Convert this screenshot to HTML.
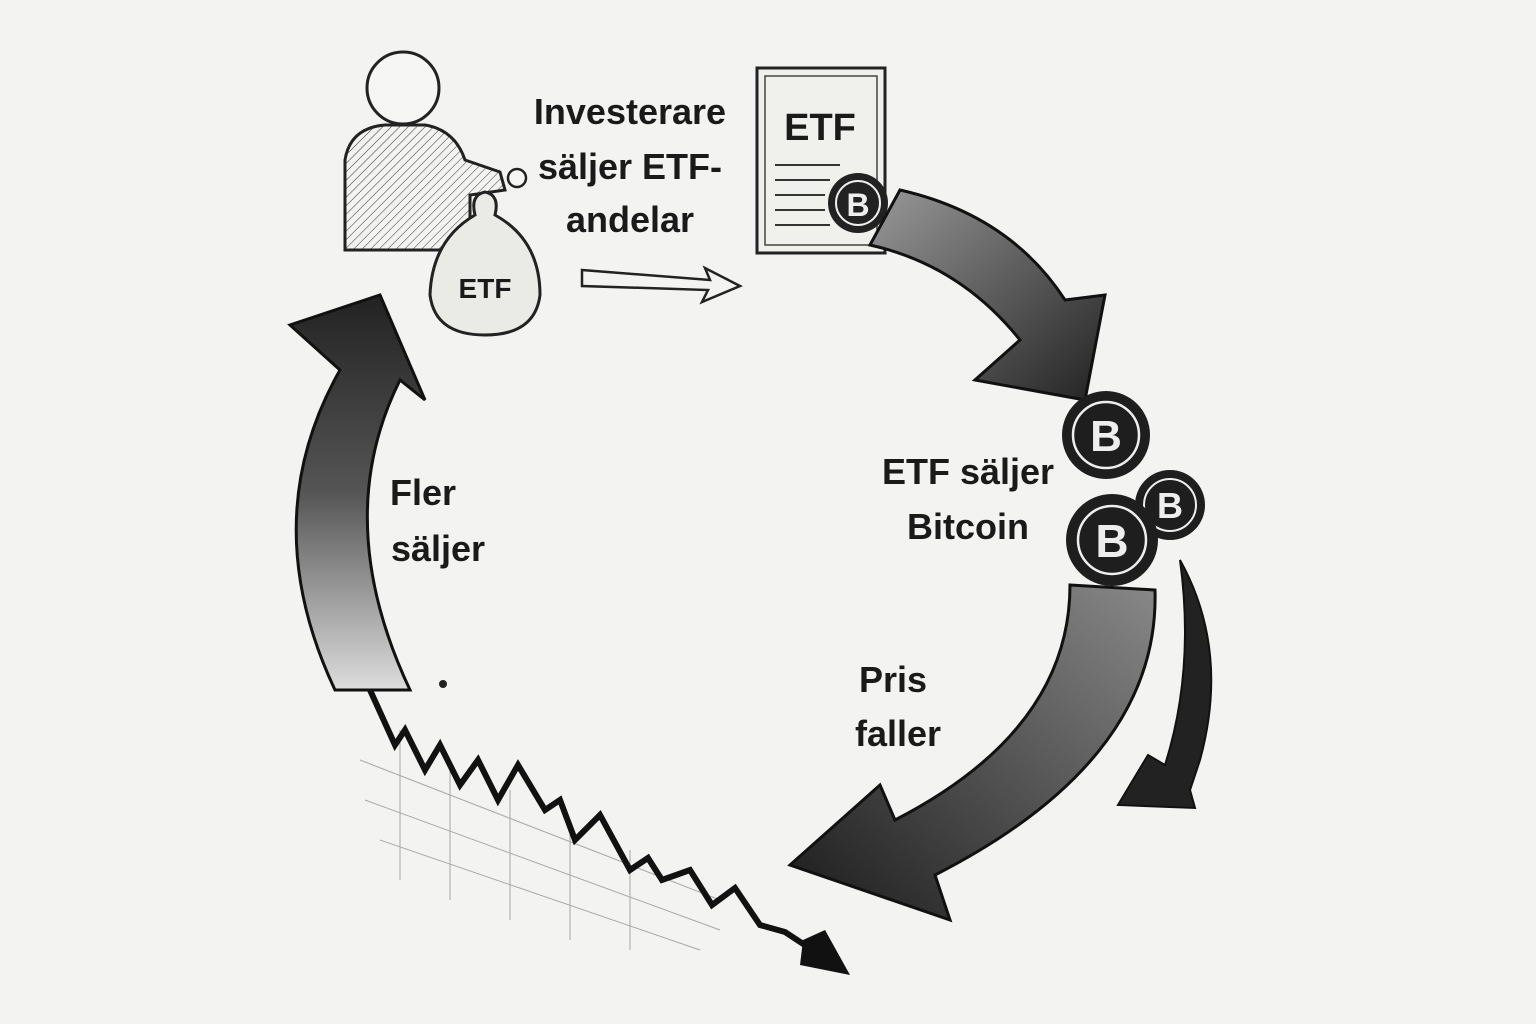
<!DOCTYPE html>
<html><head><meta charset="utf-8"><style>
html,body{margin:0;padding:0;background:#f3f3f1;}
svg{display:block}
text{font-family:"Liberation Sans",sans-serif;font-weight:bold;fill:#1a1a1a}
</style></head><body>
<svg width="1536" height="1024" viewBox="0 0 1536 1024" xmlns="http://www.w3.org/2000/svg">
<defs>
<linearGradient id="g1" x1="0" y1="0" x2="1" y2="1"><stop offset="0" stop-color="#999"/><stop offset="1" stop-color="#222"/></linearGradient>
<linearGradient id="g2" x1="1" y1="0" x2="0" y2="1"><stop offset="0" stop-color="#888"/><stop offset="1" stop-color="#1a1a1a"/></linearGradient>
<linearGradient id="g3" x1="0" y1="1" x2="0" y2="0"><stop offset="0" stop-color="#ddd"/><stop offset="0.5" stop-color="#555"/><stop offset="1" stop-color="#222"/></linearGradient>
<pattern id="hatch" width="6" height="6" patternUnits="userSpaceOnUse" patternTransform="rotate(45)"><line x1="0" y1="0" x2="0" y2="6" stroke="#333" stroke-width="1"/></pattern>
</defs>
<rect width="1536" height="1024" fill="#f3f3f1"/>

<!-- person -->
<circle cx="403" cy="88" r="36" fill="#f6f6f4" stroke="#222" stroke-width="3"/>
<path d="M345 250 L345 160 Q350 128 385 125 L425 125 Q455 130 465 160 L500 172 L505 190 L470 195 L470 250 Z" fill="url(#hatch)" stroke="#222" stroke-width="3"/>
<circle cx="517" cy="178" r="9" fill="#f6f6f4" stroke="#222" stroke-width="2.5"/>
<!-- bag -->
<path d="M475 215 Q470 195 485 192 Q500 195 495 215 Q540 240 540 295 Q535 335 485 335 Q435 335 430 295 Q432 240 475 215 Z" fill="#eaeae6" stroke="#222" stroke-width="3"/>
<text x="485" y="298" font-size="28" text-anchor="middle">ETF</text>

<text font-size="36" text-anchor="middle"><tspan x="630" y="124">Investerare</tspan><tspan x="630" y="179">säljer ETF-</tspan><tspan x="630" y="232">andelar</tspan></text>
<path d="M582 270 L710 280 L705 268 L740 286 L702 302 L708 290 L582 286 Z" fill="#f3f3f1" stroke="#222" stroke-width="2.5"/>

<!-- document -->
<rect x="757" y="68" width="128" height="185" fill="#f0f0ec" stroke="#222" stroke-width="3"/>
<rect x="765" y="76" width="112" height="169" fill="none" stroke="#444" stroke-width="1.5"/>
<text x="820" y="140" font-size="38" text-anchor="middle">ETF</text>
<g stroke="#333" stroke-width="2"><line x1="775" y1="165" x2="840" y2="165"/><line x1="775" y1="180" x2="830" y2="180"/><line x1="775" y1="195" x2="825" y2="195"/><line x1="775" y1="210" x2="825" y2="210"/><line x1="775" y1="225" x2="830" y2="225"/></g>
<circle cx="858" cy="203" r="30" fill="#222"/><circle cx="858" cy="203" r="22" fill="none" stroke="#eee" stroke-width="2"/>
<text x="858" y="216" font-size="32" text-anchor="middle" style="fill:#eee">B</text>

<!-- top-right big arrow -->
<path d="M870 245 L900 190 Q1010 215 1065 300 L1105 295 L1085 400 L975 380 L1020 340 Q960 265 870 245 Z" fill="url(#g1)" stroke="#111" stroke-width="3"/>

<!-- coins -->
<g>
<circle cx="1106" cy="435" r="44" fill="#1e1e1e"/><circle cx="1106" cy="435" r="33" fill="none" stroke="#eee" stroke-width="2.5"/><text x="1106" y="451" font-size="44" text-anchor="middle" style="fill:#eee">B</text>
<circle cx="1170" cy="505" r="35" fill="#1e1e1e"/><circle cx="1170" cy="505" r="26" fill="none" stroke="#eee" stroke-width="2"/><text x="1170" y="518" font-size="36" text-anchor="middle" style="fill:#eee">B</text>
<circle cx="1112" cy="540" r="46" fill="#1e1e1e"/><circle cx="1112" cy="540" r="34" fill="none" stroke="#eee" stroke-width="2.5"/><text x="1112" y="557" font-size="46" text-anchor="middle" style="fill:#eee">B</text>
</g>
<text font-size="36" text-anchor="middle"><tspan x="968" y="484">ETF säljer</tspan><tspan x="968" y="539">Bitcoin</tspan></text>

<!-- lower right big arrow -->
<path d="M1070 585 L1155 590 Q1160 760 935 875 L950 920 L790 865 L880 785 L895 820 Q1070 730 1070 585 Z" fill="url(#g2)" stroke="#111" stroke-width="3"/>
<!-- thin arrow -->
<path d="M1180 560 Q1230 650 1200 760 L1190 790 L1195 808 L1118 805 L1148 755 L1165 765 Q1195 670 1180 560 Z" fill="#222" stroke="#111" stroke-width="2"/>
<text font-size="36" text-anchor="middle"><tspan x="893" y="692">Pris</tspan><tspan x="898" y="746">faller</tspan></text>

<!-- left arrow -->
<path d="M335 690 Q255 520 340 370 L290 325 L380 295 L425 400 L400 380 Q330 520 410 690 Z" fill="url(#g3)" stroke="#111" stroke-width="3"/>
<text font-size="36" text-anchor="middle"><tspan x="423" y="505">Fler</tspan><tspan x="438" y="561">säljer</tspan></text>

<!-- chart grid -->
<g stroke="#888" stroke-width="1" opacity="0.7">
<line x1="360" y1="760" x2="720" y2="900"/><line x1="365" y1="800" x2="720" y2="930"/><line x1="380" y1="840" x2="700" y2="950"/>
<line x1="400" y1="730" x2="400" y2="880"/><line x1="450" y1="760" x2="450" y2="900"/><line x1="510" y1="790" x2="510" y2="920"/><line x1="570" y1="820" x2="570" y2="940"/><line x1="630" y1="850" x2="630" y2="950"/>
</g>
<polyline points="370,690 395,745 405,730 425,770 440,745 460,785 478,760 498,800 518,765 545,810 560,800 575,840 600,815 630,870 648,858 662,880 690,870 712,905 735,888 760,925 785,932 820,955" fill="none" stroke="#111" stroke-width="6" stroke-linejoin="miter"/>
<path d="M803 940 L825 930 L850 975 L800 965 Z" fill="#111"/>
<circle cx="443" cy="684" r="4" fill="#222"/>
</svg>
</body></html>
